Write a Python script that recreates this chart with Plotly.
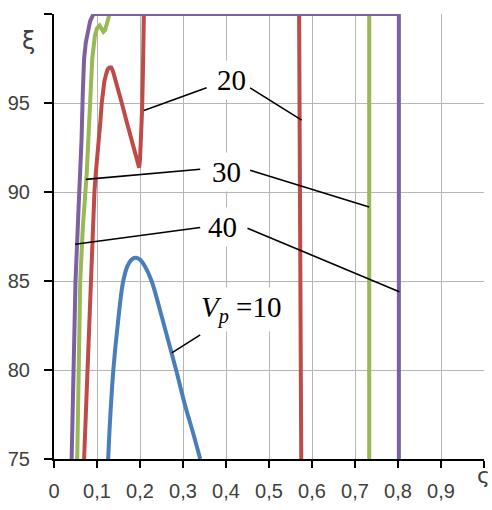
import plotly.graph_objects as go

# ---- data ----
vp_labels = ["10", "20", "30", "40"]
colors = ["#4A7EBB", "#BE4B48", "#98B954", "#7D60A0"]

x_vp10 = [0.126, 0.130, 0.138, 0.148, 0.161, 0.172, 0.183, 0.191, 0.200, 0.212,
          0.227, 0.245, 0.264, 0.284, 0.305, 0.323, 0.340]
y_vp10 = [75, 77, 80, 82.5, 85, 85.9, 86.25, 86.3, 86.2, 85.8,
          85, 83.5, 81.8, 80, 78, 76.5, 75]

x_vp20 = [0.070, 0.074, 0.078, 0.081, 0.085, 0.089, 0.094, 0.097, 0.101, 0.105,
          0.108, 0.111, 0.114, 0.117, 0.121, 0.125, 0.129, 0.133, 0.137, 0.142,
          0.149, 0.157, 0.169, 0.181, 0.190, 0.195, 0.198, 0.200, 0.202, 0.205,
          0.207, 0.209, 0.570, 0.572, 0.575]
y_vp20 = [75, 77.5, 80, 82.5, 85, 87.5, 90, 91, 92, 92.9,
          94, 95.0, 95.7, 96.2, 96.6, 96.9, 97.0, 97.0, 96.8, 96.4,
          95.8, 95.06, 93.95, 92.85, 92.0, 91.5, 91.37, 91.8, 92.8, 94.7,
          97.0, 100, 100, 90, 75]

x_vp30 = [0.054, 0.057, 0.061, 0.067, 0.073, 0.076, 0.081, 0.084, 0.089, 0.095,
          0.100, 0.106, 0.111, 0.115, 0.119, 0.123, 0.126, 0.129, 0.733, 0.733]
y_vp30 = [75, 80, 85, 88, 90, 91, 93.5, 95.6, 97.5, 98.75,
          99.2, 99.35, 99.15, 99.0, 99.1, 99.4, 99.8, 100, 100, 75]

x_vp40 = [0.041, 0.045, 0.050, 0.057, 0.062, 0.064, 0.067, 0.070, 0.074, 0.079,
          0.084, 0.092, 0.802, 0.802]
y_vp40 = [75, 80, 85, 89, 91.5, 92.9, 95.6, 97.5, 98.4, 99.1,
          99.6, 100, 100, 75]

x_ticks = [0, 0.1, 0.2, 0.3, 0.4, 0.5, 0.6, 0.7, 0.8, 0.9, 1.0]
x_ticktext = ["0", "0,1", "0,2", "0,3", "0,4", "0,5", "0,6", "0,7", "0,8", "0,9", ""]
y_ticks = [75, 80, 85, 90, 95, 100]
y_ticktext = ["75", "80", "85", "90", "95", ""]

series_x = [x_vp10, x_vp20, x_vp30, x_vp40]
series_y = [y_vp10, y_vp20, y_vp30, y_vp40]
shapes_ = ["spline", "linear", "linear", "linear"]

fig = go.Figure()
for xs, ys, c, lab, sh in zip(series_x, series_y, colors, vp_labels, shapes_):
    fig.add_trace(go.Scatter(x=xs, y=ys, mode="lines", name=lab,
                             line=dict(color=c, width=4, shape=sh)))

# ---- callout labels with leader lines ----
label_font = dict(family="Liberation Serif", size=29, color="black")
callouts = [
    ("20", 0.412, 96.3, [((0.355, 95.85), (0.209, 94.58)), ((0.456, 95.85), (0.576, 94.04))]),
    ("30", 0.402, 91.15, [((0.340, 91.28), (0.074, 90.71)), ((0.456, 91.22), (0.733, 89.16))]),
    ("40", 0.391, 88.05, [((0.340, 88.01), (0.049, 87.06)), ((0.450, 87.96), (0.803, 84.40))]),
    ("<i>V</i><sub><i>p</i></sub> =10", 0.435, 83.4, [((0.340, 81.97), (0.274, 80.96))]),
]
for text, tx, ty, lines in callouts:
    for (x0, y0), (x1, y1) in lines:
        fig.add_shape(type="line", x0=x0, y0=y0, x1=x1, y1=y1, xref="x", yref="y",
                      line=dict(color="black", width=1.6), layer="above")
    fig.add_annotation(x=tx, y=ty, xref="x", yref="y", text=text, showarrow=False,
                       font=label_font, bgcolor="white", borderpad=3)

# axis symbols
fig.add_annotation(x=-0.079, y=0.975, xref="paper", yref="paper", text="ξ",
                   showarrow=False, font=dict(family="DejaVu Sans", size=24, color="#404040"))
fig.add_annotation(x=1.0186, y=-0.07, xref="paper", yref="paper", text="ς",
                   showarrow=False, xanchor="right",
                   font=dict(family="DejaVu Sans", size=22, color="#404040"))

tick_font = dict(family="Liberation Sans", size=20, color="#404040")
fig.update_layout(
    width=492, height=510,
    margin=dict(l=54, r=8, t=14, b=44),
    plot_bgcolor="white", paper_bgcolor="white",
    showlegend=False,
    xaxis=dict(range=[0, 1], tickvals=x_ticks, ticktext=x_ticktext, tickfont=tick_font,
               showgrid=True, gridcolor="#b5b5b5", gridwidth=1, zeroline=False,
               showline=True, linecolor="black", linewidth=2,
               ticks="outside", ticklen=7, tickwidth=2, tickcolor="black",
               ticklabelstandoff=6),
    yaxis=dict(range=[75, 100], tickvals=y_ticks, ticktext=y_ticktext, tickfont=tick_font,
               showgrid=True, gridcolor="#b5b5b5", gridwidth=1, zeroline=False,
               showline=True, linecolor="black", linewidth=2,
               ticks="outside", ticklen=8, tickwidth=2, tickcolor="black",
               ticklabelstandoff=10),
)

# remove the default 8px page margin so the figure fills the window exactly
fig.write_html("out.html", config={"displayModeBar": False},
               post_script="document.body.style.margin='0';")
